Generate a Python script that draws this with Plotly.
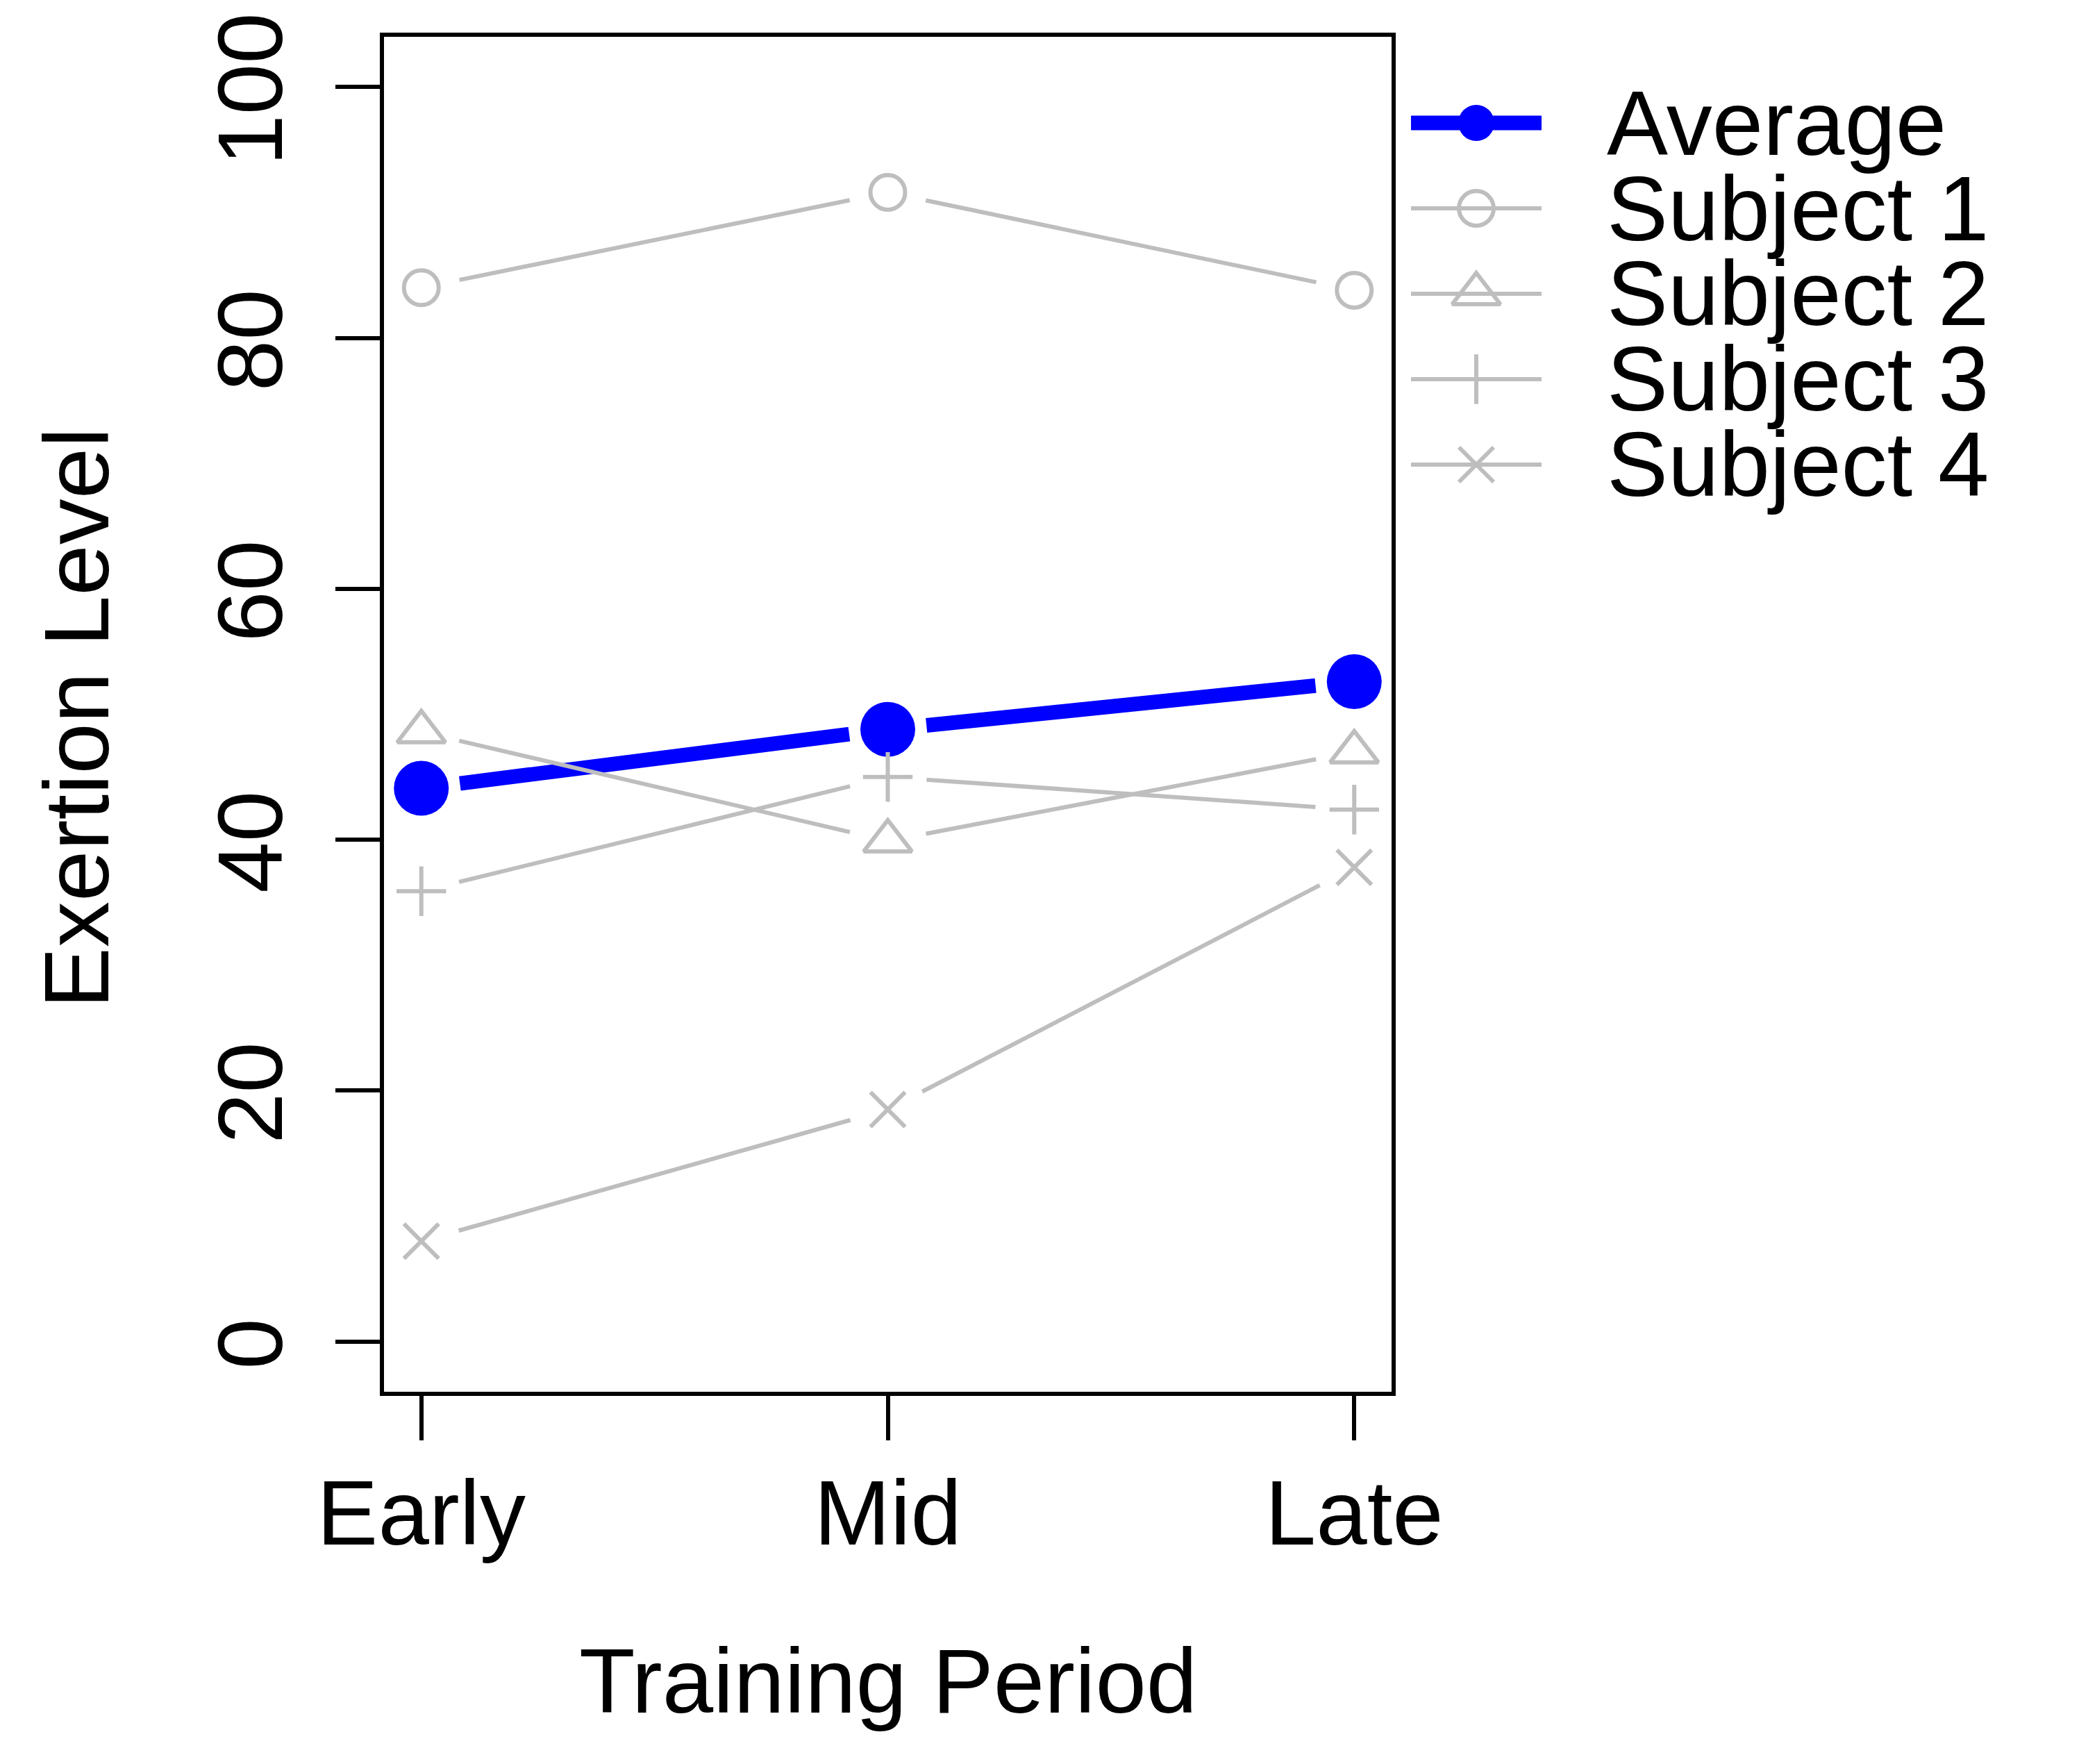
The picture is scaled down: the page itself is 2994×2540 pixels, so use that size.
import plotly.graph_objects as go

# ---------------- data ----------------
periods = ["Early", "Mid", "Late"]
period_pos = [1, 2, 3]
average = [44.1, 48.8, 52.6]
subject1 = [84.0, 91.6, 83.8]
subject2 = [48.6, 39.9, 47.0]
subject3 = [35.9, 45.0, 42.4]
subject4 = [8.0, 18.5, 37.8]
y_ticks = [0, 20, 40, 60, 80, 100]

series_names = ["Average", "Subject 1", "Subject 2", "Subject 3", "Subject 4"]

# ---------------- layout geometry ----------------
W, H = 2994, 2540
OFF = 8  # page body margin offset
PL, PR, PT, PB = 553 - OFF, 2004 - OFF, 53 - OFF, 2004 - OFF
XR = [0.92, 3.08]
YR = [-4.0, 104.0]
FONT = "Liberation Sans, Arial, Helvetica, sans-serif"
FS = 132
GRAY = "#BEBEBE"
BLUE = "#0000FF"
GAP = 56  # px gap between line ends and points (R type="b")


def to_px(x, y):
    return (PL + (x - XR[0]) / (XR[1] - XR[0]) * (PR - PL),
            PB - (y - YR[0]) / (YR[1] - YR[0]) * (PB - PT))


def to_data(px, py):
    return (XR[0] + (px - PL) / (PR - PL) * (XR[1] - XR[0]),
            YR[0] + (PB - py) / (PB - PT) * (YR[1] - YR[0]))


def gapped(xs, ys, g=GAP):
    ox, oy = [], []
    for i in range(len(xs) - 1):
        x0, y0 = to_px(xs[i], ys[i])
        x1, y1 = to_px(xs[i + 1], ys[i + 1])
        dx, dy = x1 - x0, y1 - y0
        d = (dx * dx + dy * dy) ** 0.5
        if d <= 2 * g:
            continue
        ux, uy = dx / d, dy / d
        a = to_data(x0 + ux * g, y0 + uy * g)
        b = to_data(x1 - ux * g, y1 - uy * g)
        ox += [a[0], b[0], None]
        oy += [a[1], b[1], None]
    return ox, oy


styles = {
    "Average": dict(vals=average, color=BLUE, lw=21, symbol="circle", size=79, lsize=52, mlw=0),
    "Subject 1": dict(vals=subject1, color=GRAY, lw=6, symbol="circle-open", size=50, lsize=50, mlw=6),
    "Subject 2": dict(vals=subject2, color=GRAY, lw=6, symbol="triangle-up-open", size=60, lsize=60, mlw=6),
    "Subject 3": dict(vals=subject3, color=GRAY, lw=6, symbol="cross-thin-open", size=51, lsize=51, mlw=6),
    "Subject 4": dict(vals=subject4, color=GRAY, lw=6, symbol="x-thin-open", size=50, lsize=50, mlw=6),
}

fig = go.Figure()

# Average drawn first, subjects on top (as in reference)
for name in series_names:
    s = styles[name]
    lx, ly = gapped(period_pos, s["vals"])
    fig.add_trace(go.Scatter(x=lx, y=ly, mode="lines",
                             line=dict(color=s["color"], width=s["lw"]),
                             showlegend=False, hoverinfo="skip"))
    fig.add_trace(go.Scatter(x=period_pos, y=s["vals"], mode="markers", name=name,
                             marker=dict(symbol=s["symbol"], size=s["size"], color=s["color"],
                                         line=dict(color=s["color"], width=s["mlw"])),
                             showlegend=False))

# ---------------- custom legend (pixel-space overlay axes) ----------------
leg_rows = [r - OFF for r in [177, 300, 423, 546, 669]]
leg_x0, leg_x1, leg_sym, leg_text = 2032 - OFF, 2220 - OFF, 2126 - OFF, 2312 - OFF
annotations = []
for name, ry in zip(series_names, leg_rows):
    s = styles[name]
    fig.add_trace(go.Scatter(x=[leg_x0, leg_x1], y=[ry, ry], mode="lines",
                             line=dict(color=s["color"], width=s["lw"]),
                             xaxis="x2", yaxis="y2", showlegend=False, hoverinfo="skip"))
    fig.add_trace(go.Scatter(x=[leg_sym], y=[ry], mode="markers",
                             marker=dict(symbol=s["symbol"], size=s["lsize"], color=s["color"],
                                         line=dict(color=s["color"], width=s["mlw"])),
                             xaxis="x2", yaxis="y2", showlegend=False, hoverinfo="skip"))
    annotations.append(dict(x=leg_text / W, y=1 - ry / H, xref="paper", yref="paper",
                            text=name, showarrow=False, xanchor="left", yanchor="middle",
                            font=dict(family=FONT, size=FS, color="black")))

# axis titles
annotations.append(dict(x=(PL + PR) / 2 / W, y=1 - (2420 - OFF) / H, xref="paper", yref="paper",
                        text="Training Period", showarrow=False, xanchor="center", yanchor="middle",
                        font=dict(family=FONT, size=FS, color="black")))
annotations.append(dict(x=(110 - OFF) / W, y=1 - (1034 - OFF) / H, xref="paper", yref="paper",
                        text="Exertion Level", showarrow=False, xanchor="center", yanchor="middle",
                        textangle=-90, font=dict(family=FONT, size=FS, color="black")))

axis_common = dict(showgrid=False, zeroline=False, showline=True, linecolor="black",
                   linewidth=6, mirror=True, ticks="outside", ticklen=64, tickwidth=6,
                   tickcolor="black", tickfont=dict(family=FONT, size=FS, color="black"),
                   automargin=False, fixedrange=True, ticklabeloverflow="allow")

fig.update_layout(
    width=W, height=H,
    margin=dict(l=0, r=0, t=0, b=0),
    paper_bgcolor="white", plot_bgcolor="rgba(0,0,0,0)",
    showlegend=False,
    xaxis=dict(domain=[PL / W, PR / W], range=XR, tickmode="array",
               tickvals=period_pos, ticktext=periods, ticklabelstandoff=-8, **axis_common),
    yaxis=dict(domain=[1 - PB / H, 1 - PT / H], range=YR, tickmode="array",
               tickvals=y_ticks, ticktext=[str(v) for v in y_ticks], tickangle=-90,
               ticklabelstandoff=24, ticklabelshift=23, **axis_common),
    xaxis2=dict(domain=[0, 1], range=[0, W], visible=False, fixedrange=True, anchor="y2"),
    yaxis2=dict(domain=[0, 1], range=[H, 0], visible=False, fixedrange=True, anchor="x2"),
    annotations=annotations,
)

fig.write_html("out.html")
